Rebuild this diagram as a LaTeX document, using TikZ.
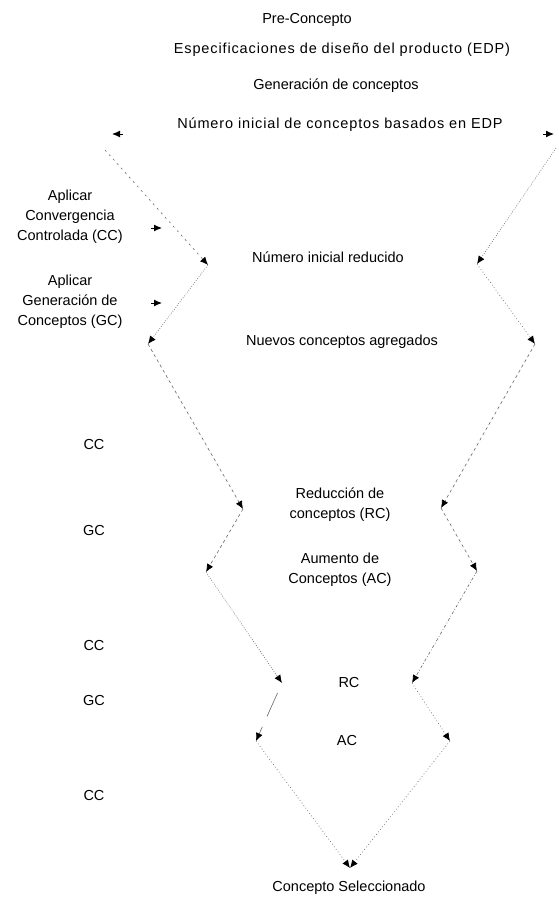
\documentclass[tikz,border=0pt]{standalone}
\usepackage{fontspec}
\setmainfont{Liberation Sans}
\usetikzlibrary{arrows.meta}
\begin{document}
\begin{tikzpicture}[x=1pt,y=-1pt,
  lbl/.style={inner sep=0pt,align=center,font=\fontsize{14.5}{20}\selectfont},
  wide/.style={font=\fontsize{14.5}{20}\selectfont\addfontfeatures{LetterSpace=6}},
  seg/.style={draw=black!60,line width=0.6pt,-{Latex[length=8pt,width=7pt,color=black,fill=black,line width=0.8pt]}},
  dens/.style={dash pattern=on 0.8pt off 1.6pt},
  dots/.style={dash pattern=on 0.8pt off 2.4pt},
  dsh/.style={dash pattern=on 3pt off 3pt},
  loose/.style={dash pattern=on 2pt off 4pt},
  dshdot/.style={dash pattern=on 3pt off 2pt on 0.8pt off 2pt},
  tipar/.style={line width=1pt,-{Latex[length=8pt,width=7pt]}}]
\useasboundingbox (0,0) rectangle (558,898);
% texts
\node[lbl] (pre) at (307,20) {Pre-Concepto};
\node[lbl,wide] (edp) at (342,50) {Especificaciones de diseño del producto (EDP)};
\node[lbl] (gen) at (336,86) {Generación de conceptos};
\node[lbl,wide] (nin) at (340,125) {Número inicial de conceptos basados en EDP};
\node[lbl] (nir) at (328,257) {Número inicial reducido};
\node[lbl] (nca) at (342,342) {Nuevos conceptos agregados};
\node[lbl] (red) at (340,505) {Reducción de\\conceptos (RC)};
\node[lbl] (aum) at (340,570) {Aumento de\\Conceptos (AC)};
\node[lbl] (rc) at (349,682) {RC};
\node[lbl] (ac) at (347,740) {AC};
\node[lbl] (sel) at (349,888) {Concepto Seleccionado};
\node[lbl] (cc1) at (94,445) {CC};
\node[lbl] (gc1) at (94,530) {GC};
\node[lbl] (cc2) at (94,645) {CC};
\node[lbl] (gc2) at (94,700) {GC};
\node[lbl] (cc3) at (94,795) {CC};
\node[lbl] (apcc) at (70,217) {Aplicar\\Convergencia\\Controlada (CC)};
\node[lbl] (apgc) at (70,302) {Aplicar\\Generación de\\Conceptos (GC)};
% zigzag vertices
\coordinate (L0) at (105,150);
\coordinate (L1) at (208,265);
\coordinate (L2) at (148,344);
\coordinate (L3) at (243,509);
\coordinate (L4) at (206,572);
\coordinate (L5) at (282,683);
\coordinate (L6) at (256,741);
\coordinate (E) at (350,868);
\coordinate (R0) at (556,148);
\coordinate (R1) at (477,264);
\coordinate (R2) at (535,344);
\coordinate (R3) at (441,508);
\coordinate (R4) at (477,571);
\coordinate (R5) at (412,683);
\coordinate (R6) at (450,741);
% isolated arrow tips
\coordinate (t1a) at (123,134); \coordinate (t1b) at (112,134);
\coordinate (t2a) at (543,134); \coordinate (t2b) at (554,134);
\coordinate (t3a) at (151,228); \coordinate (t3b) at (162,228);
\coordinate (t4a) at (151,303); \coordinate (t4b) at (162,303);
\foreach \a/\b in {t1a/t1b,t2a/t2b,t3a/t3b,t4a/t4b}
  \draw[tipar] (\a) -- (\b);
% left zigzag
\draw[seg,loose] (L0) -- (L1);
\draw[seg,dens] (L1) -- (L2);
\draw[seg,dsh] (L2) -- (L3);
\draw[seg,dsh] (L3) -- (L4);
\draw[seg,dens] (L4) -- (L5);
\draw[draw=black!60,line width=0.6pt,shorten <=11pt,shorten >=27pt] (L5) -- (L6);
\draw[seg,shorten <=48pt] (L5) -- (L6);
\draw[seg,dots] (L6) -- (E);
% right zigzag
\draw[seg,dens] (R0) -- (R1);
\draw[seg,dots] (R1) -- (R2);
\draw[seg,dsh] (R2) -- (R3);
\draw[seg,dsh] (R3) -- (R4);
\draw[seg,dshdot] (R4) -- (R5);
\draw[seg,dots] (R5) -- (R6);
\draw[seg,dots] (R6) -- (E);
\end{tikzpicture}
\end{document}
